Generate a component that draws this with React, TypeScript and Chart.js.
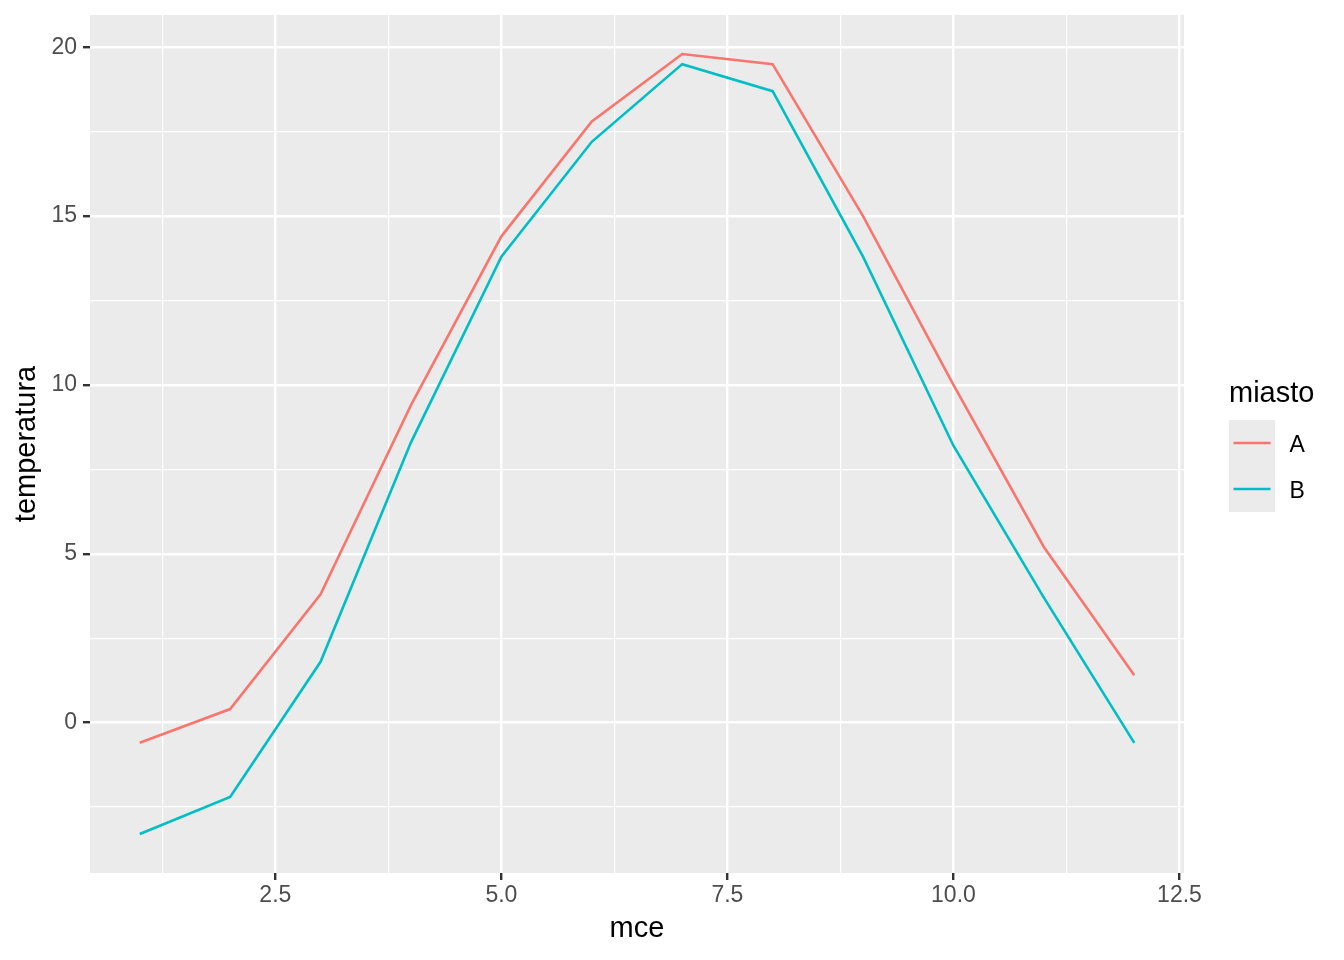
import React, { useEffect, useRef } from "react";
import { Chart, registerables } from "chart.js";

Chart.register(...registerables);

const months = [1, 2, 3, 4, 5, 6, 7, 8, 9, 10, 11, 12];
const tempA = [-0.6, 0.4, 3.8, 9.4, 14.4, 17.8, 19.8, 19.5, 15.0, 10.0, 5.2, 1.4];
const tempB = [-3.3, -2.2, 1.8, 8.3, 13.8, 17.2, 19.5, 18.7, 13.8, 8.2, 3.7, -0.6];
const seriesNames = ["A", "B"];
const seriesColors = ["#F8766D", "#00BFC4"];
const xMajorTicks = [2.5, 5, 7.5, 10, 12.5];
const xMinorTicks = [1.25, 3.75, 6.25, 8.75, 11.25];
const xTickLabels = ["2.5", "5.0", "7.5", "10.0", "12.5"];
const yMajorTicks = [0, 5, 10, 15, 20];
const yMinorTicks = [-2.5, 2.5, 7.5, 12.5, 17.5];
const yTickLabels = ["0", "5", "10", "15", "20"];
const xTitle = "mce";
const yTitle = "temperatura";
const legendTitle = "miasto";

const FONT = "'Liberation Sans', Arial, Helvetica, sans-serif";

function expand(vals: number[]) {
  const lo = Math.min(...vals);
  const hi = Math.max(...vals);
  const r = hi - lo;
  return [lo - 0.05 * r, hi + 0.05 * r];
}

export default function App() {
  const ref = useRef<HTMLCanvasElement | null>(null);

  useEffect(() => {
    if (!ref.current) return;
    const [xMin, xMax] = expand(months);
    const [yMin, yMax] = expand([...tempA, ...tempB]);
    const xAll = [...xMinorTicks, ...xMajorTicks].sort((a, b) => a - b);
    const yAll = [...yMinorTicks, ...yMajorTicks].sort((a, b) => a - b);

    const bgPlugin = {
      id: "ggbg",
      beforeDraw(chart: any) {
        const { ctx, chartArea } = chart;
        ctx.save();
        ctx.fillStyle = "#FFFFFF";
        ctx.fillRect(0, 0, chart.width, chart.height);
        ctx.fillStyle = "#EBEBEB";
        ctx.fillRect(chartArea.left, chartArea.top, chartArea.right - chartArea.left, chartArea.bottom - chartArea.top);
        ctx.restore();
      },
      afterDraw(chart: any) {
        const { ctx } = chart;
        ctx.save();
        ctx.fillStyle = "#000000";
        ctx.font = `29px ${FONT}`;
        ctx.textBaseline = "alphabetic";
        ctx.textAlign = "left";
        ctx.fillText(legendTitle, 1229, 401.5);
        const keyTop = 420;
        const keyH = 46;
        seriesNames.forEach((name, i) => {
          const top = keyTop + i * keyH;
          ctx.fillStyle = "#EBEBEB";
          ctx.fillRect(1229, top, 46, keyH);
          ctx.strokeStyle = seriesColors[i];
          ctx.lineWidth = 2.6;
          ctx.beginPath();
          ctx.moveTo(1233.5, top + keyH / 2);
          ctx.lineTo(1270.5, top + keyH / 2);
          ctx.stroke();
          ctx.fillStyle = "#000000";
          ctx.font = `23px ${FONT}`;
          ctx.fillText(name, 1289.5, top + keyH / 2 + 9);
        });
        ctx.restore();
      },
    };

    const chart = new Chart(ref.current, {
      type: "line",
      data: {
        datasets: [tempA, tempB].map((arr, i) => ({
          label: seriesNames[i],
          data: months.map((m, j) => ({ x: m, y: arr[j] })),
          borderColor: seriesColors[i],
          backgroundColor: seriesColors[i],
          borderWidth: 2.6,
          pointRadius: 0,
          tension: 0,
          fill: false,
        })),
      },
      options: {
        animation: false,
        responsive: false,
        devicePixelRatio: 1,
        layout: { padding: { top: 15, right: 160, bottom: 0, left: 0 } },
        plugins: { legend: { display: false }, tooltip: { enabled: false } },
        scales: {
          x: {
            type: "linear",
            min: xMin,
            max: xMax,
            afterBuildTicks: (s: any) => {
              s.ticks = xAll.map((v) => ({ value: v }));
            },
            afterFit: (s: any) => {
              s.height = 87;
              s.paddingLeft = 0;
              s.paddingRight = 0;
            },
            border: { display: false },
            grid: {
              color: "#FFFFFF",
              lineWidth: (c: any) => (xMajorTicks.includes(c.tick?.value) ? 2.4 : 1.2),
              tickColor: (c: any) => (xMajorTicks.includes(c.tick?.value) ? "#333333" : "rgba(0,0,0,0)"),
              tickWidth: 2.4,
              tickLength: 7,
            },
            ticks: {
              autoSkip: false,
              maxRotation: 0,
              padding: 2,
              color: "#4D4D4D",
              font: { family: FONT, size: 23 },
              callback: (v: any) => {
                const k = xMajorTicks.indexOf(Number(v));
                return k >= 0 ? xTickLabels[k] : "";
              },
            },
            title: {
              display: true,
              text: xTitle,
              color: "#000000",
              font: { family: FONT, size: 29 },
              padding: { top: 0, bottom: 13.5 },
            },
          },
          y: {
            type: "linear",
            min: yMin,
            max: yMax,
            afterBuildTicks: (s: any) => {
              s.ticks = yAll.map((v) => ({ value: v }));
            },
            afterFit: (s: any) => {
              s.width = 90;
              s.paddingTop = 0;
              s.paddingBottom = 0;
            },
            border: { display: false },
            grid: {
              color: "#FFFFFF",
              lineWidth: (c: any) => (yMajorTicks.includes(c.tick?.value) ? 2.4 : 1.2),
              tickColor: (c: any) => (yMajorTicks.includes(c.tick?.value) ? "#333333" : "rgba(0,0,0,0)"),
              tickWidth: 2.4,
              tickLength: 7,
            },
            ticks: {
              autoSkip: false,
              padding: 6,
              color: "#4D4D4D",
              font: { family: FONT, size: 23 },
              callback: (v: any) => {
                const k = yMajorTicks.indexOf(Number(v));
                return k >= 0 ? yTickLabels[k] : "";
              },
            },
            title: {
              display: true,
              text: yTitle,
              color: "#000000",
              font: { family: FONT, size: 29 },
              padding: { top: 10, bottom: 0 },
            },
          },
        },
      },
      plugins: [bgPlugin],
    } as any);
    return () => chart.destroy();
  }, []);

  return (
    <div style={{ position: "absolute", left: 0, top: 0, width: 1344, height: 960, background: "#FFFFFF" }}>
      <canvas ref={ref} width={1344} height={960} style={{ width: 1344, height: 960, display: "block" }} />
    </div>
  );
}
